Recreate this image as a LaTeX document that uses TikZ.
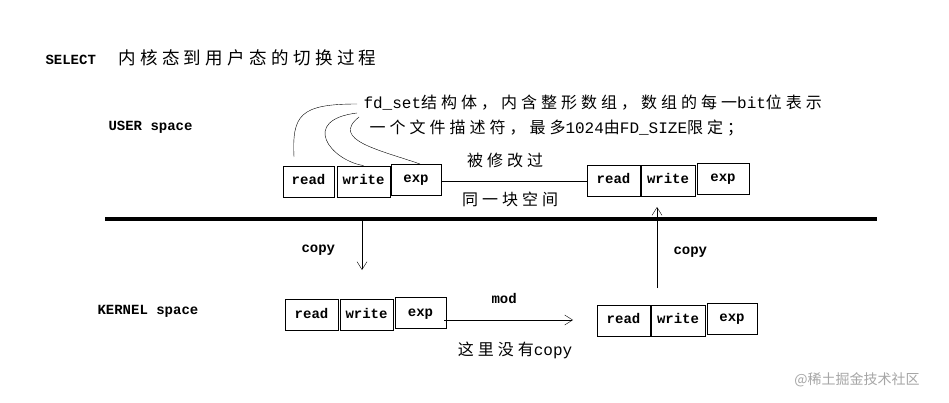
\documentclass[tikz,border=0pt]{standalone}
\usepackage{fontspec}
\setmainfont{Liberation Mono}
\newfontfamily\cjk{Noto Sans CJK SC}[LetterSpace=25]
\usetikzlibrary{arrows.meta}
\begin{document}
\begin{tikzpicture}[x=1pt,y=-1pt,
  box/.style={draw,thick,minimum height=31pt,inner sep=0pt,text height=9pt,text depth=3pt,font=\bfseries\fontsize{14}{14}\selectfont},
  lab/.style={font=\bfseries\fontsize{14}{14}\selectfont,anchor=west},
  ch/.style={font=\cjk\fontsize{16}{16}\selectfont},
  arr/.style={-{Straight Barb[length=8pt,width=10pt]}}]
\useasboundingbox[fill=white] (0,0) rectangle (949,403);
\node[lab] (title) at (42,58) {SELECT\hspace{1.6em}{\cjk\mdseries\fontsize{17.5}{17.5}\selectfont 内核态到用户态的切换过程}};
\node[lab] (user) at (105,127) {USER\hspace{0.6em}space};
\node[lab] (kern) at (94,311) {KERNEL\hspace{0.6em}space};
\node[ch,anchor=west] (t1) at (360,103) {\fontspec{Liberation Mono}fd\_set\cjk 结构体，内含整形数组，数组的每一\fontspec{Liberation Mono}bit\cjk 位表示};
\node[ch,anchor=west] (t2) at (366,128) {一个文件描述符，最多\fontspec{Liberation Mono}1024\cjk 由\fontspec{Liberation Mono}FD\_SIZE\cjk 限定；};
% row 1 left
\node[box,minimum width=51pt] (r1) at (308.5,181.5) {read};
\node[box,minimum width=53pt] (w1) at (363.5,181.5) {write};
\node[box,minimum width=50pt] (e1) at (416,179.5) {exp};
% row 1 right
\node[box,minimum width=53pt] (r2) at (613.5,181) {read};
\node[box,minimum width=54pt] (w2) at (668,181) {write};
\node[box,minimum width=52pt] (e2) at (723,179) {exp};
\draw (e1.east |- 0,181) -- (r2.west |- 0,181);
\node[ch] (m1) at (505,160) {被修改过};
\node[ch] (m2) at (510,199) {同一块空间};
% row 2 left
\node[box,minimum width=53pt] (r3) at (311.5,315) {read};
\node[box,minimum width=53pt] (w3) at (366.5,315) {write};
\node[box,minimum width=51pt] (e3) at (420.5,313) {exp};
% row 2 right
\node[box,minimum width=53pt] (r4) at (623.5,320.5) {read};
\node[box,minimum width=54pt] (w4) at (678,320.5) {write};
\node[box,minimum width=50pt] (e4) at (732,318.5) {exp};
% divider
\draw[line width=3.5pt] (105,219) -- (877,219);
% arrows
\coordinate (d0) at (362,221);
\draw[arr] (d0) -- (362,270);
\node[lab] (c1) at (298,250) {copy};
\coordinate (u0) at (657,288);
\draw[arr] (u0) -- (657,207);
\node[lab] (c2) at (670,252) {copy};
\coordinate (m0) at (444,320);
\draw[arr] (m0) -- (573,320);
\node[lab] (mod) at (488,298) {mod};
\node[ch] (nc) at (515,350) {这里没有\fontspec{Liberation Mono}copy};
% curves
\draw (294,157) .. controls (292,115) and (300,104) .. (357,104);
\draw (w1.north) .. controls (330,160) and (300,120) .. (357,113);
\draw (420,164) .. controls (380,150) and (330,140) .. (359,117);
\node[font=\fontspec{Noto Sans CJK SC}\fontsize{14}{14}\selectfont,text=gray!70] (wm) at (857,380) {@稀土掘金技术社区};
\end{tikzpicture}
\end{document}
